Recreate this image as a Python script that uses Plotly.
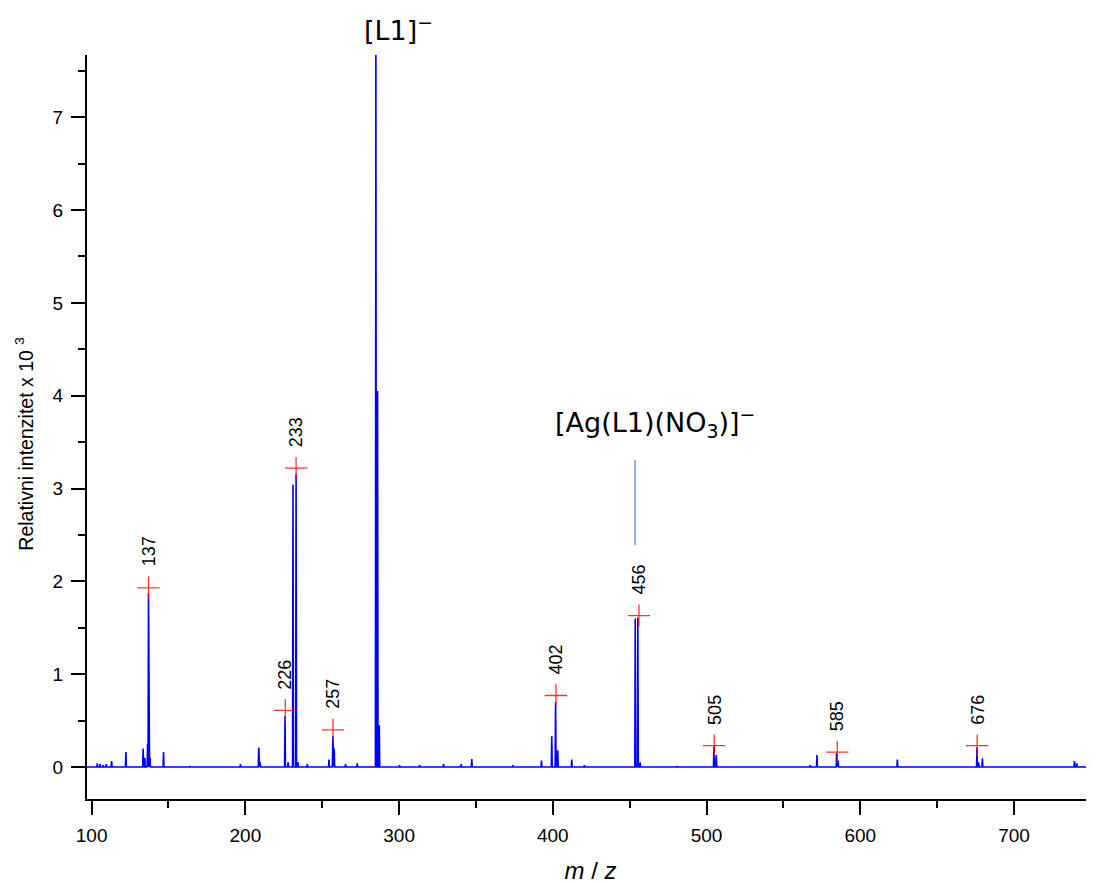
import plotly.graph_objects as go

# ---- data ----
peak_mz = [103.7, 105.5, 107.5, 109.5, 113.0, 122.3, 133.5, 134.6, 136.4, 137.0,
           138.0, 146.8, 163.9, 196.8, 208.7, 209.6, 225.8, 227.8, 231.0, 233.0,
           234.2, 240.3, 254.4, 256.9, 257.8, 265.2, 272.8, 284.9, 286.0, 287.1,
           300.3, 313.3, 328.9, 340.4, 347.3, 374.0, 392.6, 399.3, 401.8, 403.2,
           412.3, 420.5, 453.6, 455.3, 456.8, 480.8, 504.8, 506.3, 567.4, 571.8,
           584.6, 585.6, 624.1, 675.9, 677.0, 679.4, 739.3, 740.8]
peak_int = [0.04, 0.03, 0.02, 0.03, 0.065, 0.16, 0.20, 0.10, 0.25, 1.87,
            0.10, 0.16, 0.01, 0.03, 0.21, 0.05, 0.55, 0.05, 3.04, 3.15,
            0.05, 0.03, 0.08, 0.33, 0.20, 0.03, 0.04, 7.90, 4.05, 0.45,
            0.02, 0.02, 0.03, 0.03, 0.085, 0.02, 0.07, 0.33, 0.70, 0.18,
            0.08, 0.02, 1.60, 1.61, 0.05, 0.01, 0.22, 0.13, 0.02, 0.13,
            0.15, 0.07, 0.08, 0.21, 0.05, 0.09, 0.065, 0.04]
baseline_mz = [97.0, 752.0]

label_mz = [137, 226, 233, 257, 402, 456, 505, 585, 676]
label_int = [1.93, 0.61, 3.22, 0.40, 0.77, 1.63, 0.23, 0.16, 0.23]
label_text = ["137", "226", "233", "257", "402", "456", "505", "585", "676"]

ion_labels = ["[L1]<sup>\u2212</sup>", "[Ag(L1)(NO<sub>3</sub>)]<sup>\u2212</sup>"]
ion_label_mz = [299.5, 466.5]
ion_label_y = [1.036, 0.506]
pointer_mz = 453.5
pointer_y = [2.39, 3.31]

x_range = [97, 752]
y_range = [-0.345, 7.67]

y_title = "Relativni intenzitet x 10 <sup>3</sup>"
x_title = "<i>m</i> / <i>z</i>"

# ---- build stick spectrum ----
half_w = 0.3
pairs = sorted(zip(peak_mz, peak_int))
xs, ys = [baseline_mz[0]], [0.0]
for m, h in pairs:
    xs += [m - half_w, m, m + half_w]
    ys += [0.0, h, 0.0]
xs.append(baseline_mz[1])
ys.append(0.0)

fig = go.Figure()
fig.add_trace(go.Scatter(x=xs, y=ys, mode="lines",
                         line=dict(color="#0000ff", width=1.6),
                         hoverinfo="skip", showlegend=False))
fig.add_trace(go.Scatter(x=label_mz, y=label_int, mode="markers",
                         marker=dict(symbol="cross-thin", size=16,
                                     line=dict(color="rgba(255,0,0,0.8)", width=1.3)),
                         showlegend=False))

for m, h, t in zip(label_mz, label_int, label_text):
    fig.add_annotation(x=m, y=h, text=t, textangle=-90, showarrow=False,
                       xanchor="center", yanchor="bottom", yshift=19,
                       font=dict(family="Liberation Sans", size=18, color="black"))

for txt, mx, yy in zip(ion_labels, ion_label_mz, ion_label_y):
    fig.add_annotation(x=mx, y=yy, xref="x", yref="paper",
                       text=txt, showarrow=False, xanchor="center", yanchor="middle",
                       font=dict(family="DejaVu Sans", size=27, color="black"))
fig.add_shape(type="line", x0=pointer_mz, x1=pointer_mz, y0=pointer_y[0], y1=pointer_y[1],
              xref="x", yref="y", line=dict(color="#8db4e2", width=2))

# y-axis title (placed as rotated text, matching the reference position)
fig.add_annotation(x=-0.062, y=0.477, xref="paper", yref="paper", text=y_title,
                   textangle=-90, showarrow=False, xanchor="center", yanchor="middle",
                   font=dict(family="Liberation Sans", size=19.5, color="black"))

tick_font = dict(family="Liberation Sans", size=19, color="black")
fig.update_xaxes(range=x_range, showgrid=False, zeroline=False,
                 showline=True, linecolor="black", linewidth=2,
                 ticks="outside", ticklen=14, tickwidth=1.5, tickcolor="black",
                 tick0=100, dtick=100, tickfont=tick_font, ticklabelstandoff=4,
                 minor=dict(ticks="outside", ticklen=7, tickwidth=1.5, tickcolor="black", dtick=50, tick0=100),
                 title=dict(text=x_title,
                            font=dict(family="Liberation Sans", size=24, color="black"),
                            standoff=17))
fig.update_yaxes(range=y_range, showgrid=False, zeroline=False,
                 showline=True, linecolor="black", linewidth=2,
                 ticks="outside", ticklen=14, tickwidth=1.5, tickcolor="black",
                 tick0=0, dtick=1, tickfont=tick_font, ticklabelstandoff=4,
                 minor=dict(ticks="outside", ticklen=7, tickwidth=1.5, tickcolor="black", dtick=0.5, tick0=0))

# page body has an 8px margin; the figure is sized so that it ends at the window edge
fig.update_layout(width=1086, height=876,
                  margin=dict(l=79, r=0, t=47, b=85),
                  plot_bgcolor="white", paper_bgcolor="white")

fig.write_html("out.html")
